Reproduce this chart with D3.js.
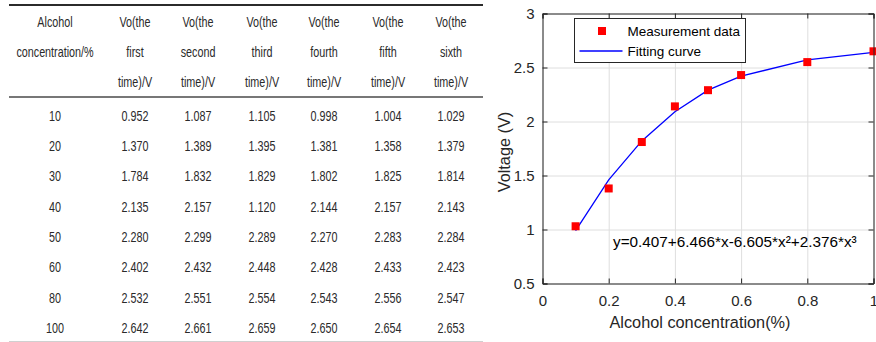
<!DOCTYPE html>
<html lang="en">
<head>
  <meta charset="UTF-8">
  <title>Alcohol concentration vs voltage</title>
  <script src="https://cdn.jsdelivr.net/npm/d3@7"></script>
  <style>
    body { margin: 0; background: #fff; }
    .cell { font-family: "Liberation Sans", Arial, sans-serif; font-size: 14px; fill: #2a2a2a; }
    .tick text { font-family: "Liberation Sans", Arial, sans-serif; font-size: 15px; fill: #262626; }
    .axis-title { font-family: "Liberation Sans", Arial, sans-serif; font-size: 16.3px; fill: #262626; }
    .legend-text { font-family: "Liberation Sans", Arial, sans-serif; font-size: 13.5px; fill: #000; }
    .equation { font-family: "Liberation Sans", Arial, sans-serif; font-size: 15.3px; fill: #000; }
  </style>
</head>
<body>
  <div id="container"></div>

  <script>
    // table data
    const concentration = [10, 20, 30, 40, 50, 60, 80, 100];
    const trial1 = ["0.952", "1.370", "1.784", "2.135", "2.280", "2.402", "2.532", "2.642"];
    const trial2 = ["1.087", "1.389", "1.832", "2.157", "2.299", "2.432", "2.551", "2.661"];
    const trial3 = ["1.105", "1.395", "1.829", "1.120", "2.289", "2.448", "2.554", "2.659"];
    const trial4 = ["0.998", "1.381", "1.802", "2.144", "2.270", "2.428", "2.543", "2.650"];
    const trial5 = ["1.004", "1.358", "1.825", "2.157", "2.283", "2.433", "2.556", "2.654"];
    const trial6 = ["1.029", "1.379", "1.814", "2.143", "2.284", "2.423", "2.547", "2.653"];
    const headers = [
      ["Alcohol", "concentration/%", ""],
      ["Vo(the", "first", "time)/V"],
      ["Vo(the", "second", "time)/V"],
      ["Vo(the", "third", "time)/V"],
      ["Vo(the", "fourth", "time)/V"],
      ["Vo(the", "fifth", "time)/V"],
      ["Vo(the", "sixth", "time)/V"]
    ];

    // chart data
    const concX = [0.1, 0.2, 0.3, 0.4, 0.5, 0.6, 0.8, 1.0];
    const measured = [1.03, 1.38, 1.81, 2.14, 2.29, 2.43, 2.55, 2.65];
    const fitted = [0.99, 1.46, 1.82, 2.09, 2.29, 2.42, 2.57, 2.64];
    const xTicks = [0, 0.2, 0.4, 0.6, 0.8, 1];
    const yTicks = [0.5, 1, 1.5, 2, 2.5, 3];
    const equation = "y=0.407+6.466*x-6.605*x\u00B2+2.376*x\u00B3";

    const W = 876, H = 342;

    const svg = d3.select("#container")
      .append("svg")
      .attr("width", W)
      .attr("height", H);

    // ---------- table ----------
    const table = svg.append("g").attr("class", "table");
    const colX = [55, 135, 198, 262, 324, 388, 451];
    const headY = [22, 52, 82];
    const rowY = d3.scaleLinear().domain([0, concentration.length - 1]).range([116, 328]);

    const columns = [concentration.map(String), trial1, trial2, trial3, trial4, trial5, trial6];

    // narrow text, close to the Calibri look of the original
    function cell(x, y, t) {
      table.append("text")
        .attr("class", "cell")
        .attr("transform", `translate(${x},${y}) scale(0.77,1)`)
        .attr("dy", "0.35em")
        .attr("text-anchor", "middle")
        .text(t);
    }

    headers.forEach((lines, c) => {
      lines.forEach((t, i) => cell(colX[c], headY[i], t));
    });

    columns.forEach((col, c) => {
      col.forEach((d, i) => cell(colX[c], rowY(i), d));
    });

    // rules
    table.append("line").attr("x1", 9).attr("x2", 483).attr("y1", 5).attr("y2", 5)
      .attr("stroke", "#2b2b2b").attr("stroke-width", 2);
    table.append("line").attr("x1", 9).attr("x2", 483).attr("y1", 97).attr("y2", 97)
      .attr("stroke", "#4a4a4a").attr("stroke-width", 1.5);
    table.append("line").attr("x1", 9).attr("x2", 483).attr("y1", 341.5).attr("y2", 341.5)
      .attr("stroke", "#d0d0d0").attr("stroke-width", 1);

    // ---------- chart ----------
    const pLeft = 542.5, pRight = 873.5, pTop = 13.5, pBottom = 283.5;

    const xScale = d3.scaleLinear().domain([0, 1]).range([pLeft, pRight]);
    const yScale = d3.scaleLinear().domain([0.5, 3]).range([pBottom, pTop]);

    const chart = svg.append("g").attr("class", "chart");

    // grid
    chart.append("g")
      .attr("transform", `translate(0,${pBottom})`)
      .call(d3.axisBottom(xScale).tickValues(xTicks).tickSize(-(pBottom - pTop)).tickFormat(""))
      .call(g => g.select(".domain").remove())
      .call(g => g.selectAll("line").attr("stroke", "#dedede"));
    chart.append("g")
      .attr("transform", `translate(${pLeft},0)`)
      .call(d3.axisLeft(yScale).tickValues(yTicks).tickSize(-(pRight - pLeft)).tickFormat(""))
      .call(g => g.select(".domain").remove())
      .call(g => g.selectAll("line").attr("stroke", "#dedede"));

    // fitting curve
    const line = d3.line()
      .x((d, i) => xScale(concX[i]))
      .y(d => yScale(d));

    chart.append("path")
      .datum(fitted)
      .attr("d", line)
      .attr("fill", "none")
      .attr("stroke", "#0000ff")
      .attr("stroke-width", 1.3);

    // measurement squares
    const sq = 8;
    chart.selectAll(".meas")
      .data(measured)
      .enter()
      .append("rect")
      .attr("class", "meas")
      .attr("x", (d, i) => xScale(concX[i]) - sq / 2)
      .attr("y", d => yScale(d) - sq / 2)
      .attr("width", sq)
      .attr("height", sq)
      .attr("fill", "#ff0000");

    // axes (MATLAB-style inward ticks on all sides)
    chart.append("g")
      .attr("transform", `translate(0,${pBottom})`)
      .call(d3.axisBottom(xScale).tickValues(xTicks).tickSize(-5).tickPadding(12).tickFormat(d3.format("")))
      .call(g => g.selectAll("line, path").attr("stroke", "#262626"));
    chart.append("g")
      .attr("transform", `translate(0,${pTop})`)
      .call(d3.axisTop(xScale).tickValues(xTicks).tickSize(-5).tickFormat(""))
      .call(g => g.selectAll("line, path").attr("stroke", "#262626"));
    chart.append("g")
      .attr("transform", `translate(${pLeft},0)`)
      .call(d3.axisLeft(yScale).tickValues(yTicks).tickSize(-5).tickPadding(8).tickFormat(d3.format("")))
      .call(g => g.selectAll("line, path").attr("stroke", "#262626"));
    chart.append("g")
      .attr("transform", `translate(${pRight},0)`)
      .call(d3.axisRight(yScale).tickValues(yTicks).tickSize(-5).tickFormat(""))
      .call(g => g.selectAll("line, path").attr("stroke", "#262626"));

    // axis titles
    chart.append("text")
      .attr("class", "axis-title")
      .attr("x", 700)
      .attr("y", 328)
      .attr("text-anchor", "middle")
      .text("Alcohol concentration(%)");

    chart.append("text")
      .attr("class", "axis-title")
      .attr("transform", "rotate(-90)")
      .attr("x", -152)
      .attr("y", 510)
      .attr("text-anchor", "middle")
      .text("Voltage (V)");

    // equation
    chart.append("text")
      .attr("class", "equation")
      .attr("x", 613)
      .attr("y", 247)
      .text(equation);

    // legend
    const legend = chart.append("g").attr("transform", "translate(574.5,18.5)");
    legend.append("rect")
      .attr("width", 171)
      .attr("height", 44)
      .attr("fill", "#fff")
      .attr("stroke", "#262626")
      .attr("stroke-width", 1);
    legend.append("rect")
      .attr("x", 27.5 - sq / 2)
      .attr("y", 12.5 - sq / 2)
      .attr("width", sq)
      .attr("height", sq)
      .attr("fill", "#ff0000");
    legend.append("text")
      .attr("class", "legend-text")
      .attr("x", 53)
      .attr("y", 12.5)
      .attr("dy", "0.35em")
      .text("Measurement data");
    legend.append("line")
      .attr("x1", 5).attr("x2", 48)
      .attr("y1", 32.5).attr("y2", 32.5)
      .attr("stroke", "#0000ff")
      .attr("stroke-width", 1.3);
    legend.append("text")
      .attr("class", "legend-text")
      .attr("x", 53)
      .attr("y", 32.5)
      .attr("dy", "0.35em")
      .text("Fitting curve");
  </script>
</body>
</html>
